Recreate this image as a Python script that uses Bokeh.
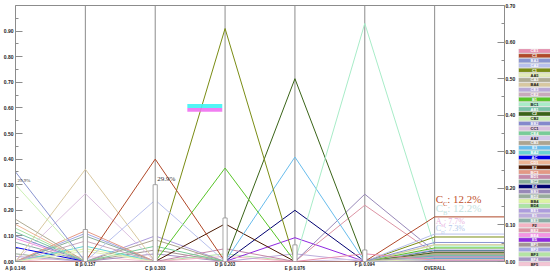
import math
from bokeh.plotting import figure
from bokeh.models import (Range1d, LinearAxis, FixedTicker, Label, BoxAnnotation,
                          PrintfTickFormatter, ColumnDataSource)
from bokeh.layouts import row
from bokeh.embed import file_html
from bokeh.resources import INLINE

# ---------------- data ----------------
axis_pos = [0, 1, 2, 3, 4, 5, 6]
axis_labels = ["A βᵢ 0.146", "B βᵢ 0.157", "C βᵢ 0.303", "D βᵢ 0.203",
               "E βᵢ 0.076", "F βᵢ 0.094", "OVERALL"]
right_end = 7

left_ticks = [0.0, 0.1, 0.2, 0.3, 0.4, 0.5, 0.6, 0.7, 0.8, 0.9]
left_minor = [0.05, 0.15, 0.25, 0.35, 0.45, 0.55, 0.65, 0.75, 0.85, 0.95]
right_ticks = [0.0, 0.1, 0.2, 0.3, 0.4, 0.5, 0.6, 0.7]
right_minor = [0.05, 0.15, 0.25, 0.35, 0.45, 0.55, 0.65]

names = ["CE1", "C3", "BA3", "CA2", "C1", "AA5", "CA3", "BA4", "CE3", "CE2",
         "B1", "BC1", "AB1", "C2", "CB2", "BB2", "CC1", "CE4", "AA2", "CB3",
         "E3", "BA2", "AC", "CD1", "E2", "BC3", "BD1", "BC2", "E4", "BB3",
         "BD2", "BB4", "BD4", "BE1", "E1", "BE3", "F2", "BE2", "BE4", "E5",
         "BF1", "BF2", "BF3", "BF4", "BF5"]
colors = ["#e890b0", "#b04828", "#8a95d0", "#b8c0ec", "#7a8c14", "#e4ecb8", "#b0ac94", "#d8c8a0", "#b8a8d8", "#c8aabb",
          "#58c428", "#a8ecc8", "#78c4a8", "#3a6418", "#ccf0b4", "#8488cc", "#dcc0e0", "#78cc98", "#d4c8ec", "#aca490",
          "#68bcec", "#68d4d4", "#0000e8", "#ecb494", "#4a1800", "#e49884", "#c488a8", "#88ac98", "#000070", "#9888b8",
          "#98ac9c", "#dcf4a4", "#ace4a4", "#ac9cdc", "#bcacdc", "#88aca4", "#f4b4c4", "#dc94a4", "#f494e4", "#9028e0",
          "#a49494", "#a4a8e4", "#b4e4a4", "#a494c4", "#f4c4d4"]

val_A = [0, 0, 0.35, 0, 0, 0, 0.165, 0, 0.02, 0,
         0, 0, 0.115, 0, 0.30, 0.10, 0, 0, 0, 0,
         0, 0, 0.055, 0.145, 0, 0, 0, 0, 0, 0,
         0.03, 0, 0.13, 0, 0, 0.075, 0, 0, 0.09, 0,
         0, 0, 0, 0, 0]
val_B = [0, 0, 0, 0, 0, 0.04, 0, 0.36, 0, 0.08,
         0, 0, 0, 0, 0, 0, 0.265, 0, 0, 0,
         0, 0.06, 0, 0, 0, 0.12, 0, 0.10, 0, 0,
         0, 0.05, 0, 0, 0, 0, 0, 0, 0, 0,
         0, 0.11, 0, 0, 0.02]
val_C = [0, 0.40, 0, 0.24, 0, 0, 0, 0, 0, 0,
         0, 0, 0, 0, 0, 0, 0, 0.06, 0, 0.085,
         0, 0, 0, 0, 0, 0, 0, 0, 0, 0,
         0, 0, 0, 0.10, 0, 0, 0, 0, 0, 0,
         0.045, 0, 0, 0.03, 0]
val_D = [0, 0, 0, 0, 0.91, 0, 0, 0, 0, 0,
         0.365, 0, 0, 0, 0, 0, 0, 0, 0, 0,
         0, 0, 0, 0, 0.147, 0, 0.05, 0, 0, 0,
         0, 0, 0, 0, 0, 0, 0.02, 0, 0, 0,
         0, 0, 0.03, 0, 0]
val_E = [0, 0, 0, 0, 0, 0, 0, 0, 0, 0,
         0, 0, 0, 0.714, 0, 0, 0, 0, 0, 0,
         0.408, 0, 0, 0, 0, 0, 0, 0, 0.20, 0,
         0, 0, 0, 0, 0.03, 0, 0, 0, 0, 0.093,
         0, 0, 0, 0, 0]
val_F = [0.03, 0, 0, 0, 0, 0, 0, 0, 0, 0,
         0, 0.93, 0, 0, 0, 0, 0, 0, 0.01, 0,
         0, 0, 0, 0, 0, 0, 0, 0, 0, 0.263,
         0, 0, 0, 0, 0, 0, 0, 0.22, 0, 0,
         0, 0, 0, 0, 0]
val_overall = [0.004, 0.122, 0.052, 0.075, 0.067, 0.006, 0.020, 0.046, 0.003, 0.012,
               0.037, 0.040, 0.017, 0.024, 0.044, 0.015, 0.034, 0.018, 0.002, 0.026,
               0.031, 0.009, 0.008, 0.021, 0.030, 0.019, 0.010, 0.016, 0.008, 0.028,
               0.004, 0.008, 0.019, 0.030, 0.003, 0.011, 0.004, 0.021, 0.013, 0.007,
               0.014, 0.017, 0.006, 0.009, 0.003]

box_pos = [1, 2, 3, 4, 5]
box_top = [0.125, 0.30, 0.17, 0.065, 0.045]

LEFT_MAX = 1.0
RIGHT_MAX = 0.7

GRAY = "#8c8c8c"
TICK_FONT = "Liberation Sans"

# ---------------- main figure ----------------
p = figure(width=518, height=273, x_range=Range1d(0, right_end),
           y_range=Range1d(0, LEFT_MAX), output_backend="svg", toolbar_location=None,
           x_axis_location=None, y_axis_location="left",
           min_border_left=0, min_border_right=0, min_border_top=5, min_border_bottom=0,
           frame_align=False)
p.grid.visible = False
p.outline_line_color = GRAY
p.outline_line_width = 1
p.extra_y_ranges = {"right": Range1d(0, RIGHT_MAX)}

ya = p.yaxis[0]
ya.ticker = FixedTicker(ticks=left_ticks, minor_ticks=left_minor)
ya.formatter = PrintfTickFormatter(format="%.2f")

ra = LinearAxis(y_range_name="right",
                ticker=FixedTicker(ticks=right_ticks, minor_ticks=right_minor),
                formatter=PrintfTickFormatter(format="%.2f"))
p.add_layout(ra, "right")

for ax, so in ((ya, 2), (ra, 1)):
    ax.axis_line_color = GRAY
    ax.major_tick_line_color = GRAY
    ax.minor_tick_line_color = GRAY
    ax.major_tick_in = 7
    ax.major_tick_out = 0
    ax.minor_tick_in = 3
    ax.minor_tick_out = 0
    ax.major_label_standoff = so
    ax.major_label_text_font = TICK_FONT
    ax.major_label_text_font_size = "5px"
    ax.major_label_text_font_style = "bold"
    ax.major_label_text_color = "#222222"

# bottom category labels (alternating heights via a leading blank line)
bottom_overrides = {}
for i, pos in enumerate(axis_pos):
    bottom_overrides[pos] = axis_labels[i] if i % 2 == 1 else "\n" + axis_labels[i]
ax_b = LinearAxis(ticker=FixedTicker(ticks=axis_pos, minor_ticks=[]),
                  major_label_overrides=bottom_overrides)
ax_b.axis_line_color = None
ax_b.major_tick_line_color = None
ax_b.minor_tick_line_color = None
ax_b.major_tick_out = 0
ax_b.major_tick_in = 0
ax_b.major_label_standoff = 0
ax_b.major_label_text_font = TICK_FONT
ax_b.major_label_text_font_size = "4.5px"
ax_b.major_label_text_font_style = "bold"
ax_b.major_label_text_color = "#222222"
ax_b.major_label_text_line_height = 0.85
p.add_layout(ax_b, "below")

# vertical axis lines
p.segment(x0=axis_pos[1:], y0=0, x1=axis_pos[1:], y1=LEFT_MAX, line_color=GRAY, line_width=1)

# highlight artefact bars
p.add_layout(BoxAnnotation(left=2.46, right=2.96, bottom=0.600, top=0.615,
                           fill_color="#40f4f4", fill_alpha=0.9, line_color=None))
p.add_layout(BoxAnnotation(left=2.46, right=2.96, bottom=0.585, top=0.600,
                           fill_color="#f070f0", fill_alpha=0.9, line_color=None))

n = len(names)
order = list(range(n))[::-1]
xs1, ys1, xs2, ys2, cl = [], [], [], [], []
scale = RIGHT_MAX / LEFT_MAX
for i in order:
    xs1.append(axis_pos[:6])
    ys1.append([val_A[i], val_B[i], val_C[i], val_D[i], val_E[i], val_F[i]])
    xs2.append([axis_pos[5], axis_pos[6], right_end])
    ys2.append([val_F[i] * scale, val_overall[i], val_overall[i]])
    cl.append(colors[i])

p.multi_line(xs="xs", ys="ys", line_color="c", line_width=1,
             source=ColumnDataSource(dict(xs=xs1, ys=ys1, c=cl)))
p.multi_line(xs="xs", ys="ys", line_color="c", line_width=1, y_range_name="right",
             source=ColumnDataSource(dict(xs=xs2, ys=ys2, c=cl)))

# box markers on axes
p.vbar(x=box_pos, top=box_top, bottom=0, width=0.06, fill_color="white",
       line_color="#909090", line_width=0.8)

SERIF = "Liberation Serif"
p.add_layout(Label(x=0, y=0.305, x_offset=2, text="29.9%", text_font=SERIF,
                   text_font_size="5px", text_color="#333333", text_baseline="bottom"))
p.add_layout(Label(x=2, y=0.305, x_offset=2, text="29.9%", text_font=SERIF,
                   text_font_size="7px", text_color="#333333", text_baseline="bottom"))

# units labels
p.add_layout(Label(x=0, y=LEFT_MAX, x_offset=1, y_offset=0, text="(%)", text_font=TICK_FONT,
                   text_font_size="5px", text_font_style="bold", text_color="#222222",
                   text_baseline="bottom"))
p.add_layout(Label(x=right_end, y=RIGHT_MAX, y_range_name="right", x_offset=-2, text="(%)",
                   text_font=TICK_FONT, text_font_size="5px", text_font_style="bold",
                   text_color="#222222", text_align="right", text_baseline="bottom"))

# overall annotations
annots = [("C", "C", ": 12.2%", 0.155, "#c0502a", 11),
          ("C", "B", ": 12.2%", 0.131, "#c4e2e0", 11),
          ("A", "M", ": 7.7%", 0.098, "#e8b4e0", 8),
          ("C", "D", ": 7.3%", 0.079, "#b4c8ea", 8)]
for big, sub, rest, yv, col, fs in annots:
    wbig = fs * 0.68
    wsub = fs * 0.6 * 0.62
    p.add_layout(Label(x=axis_pos[6], y=yv, y_range_name="right", x_offset=1, text=big,
                       text_font=SERIF, text_font_size=f"{fs}px", text_color=col,
                       text_baseline="bottom"))
    p.add_layout(Label(x=axis_pos[6], y=yv, y_range_name="right", x_offset=1 + wbig,
                       y_offset=-2, text=sub, text_font=SERIF,
                       text_font_size=f"{fs * 0.6:.1f}px", text_color=col,
                       text_baseline="bottom"))
    p.add_layout(Label(x=axis_pos[6], y=yv, y_range_name="right", x_offset=1 + wbig + wsub,
                       text=rest, text_font=SERIF, text_font_size=f"{fs}px",
                       text_color=col, text_baseline="bottom"))

# ---------------- legend figure ----------------
def text_col(hexc):
    r, g, b = int(hexc[1:3], 16), int(hexc[3:5], 16), int(hexc[5:7], 16)
    lum = 0.299 * r + 0.587 * g + 0.114 * b
    return "#1a1a1a" if lum > 200 else "white"

leg = figure(width=32, height=273, x_range=Range1d(0, 1), y_range=Range1d(n, 0),
             output_backend="svg", toolbar_location=None,
             x_axis_location=None, y_axis_location=None,
             min_border_top=48, min_border_bottom=7, min_border_left=0, min_border_right=0,
             frame_align=False)
leg.grid.visible = False
leg.outline_line_color = None
ypos = [i + 0.5 for i in range(n)]
leg.rect(x=0.5, y=ypos, width=1.0, height=0.84, fill_color=colors, line_color="#d0d0d0",
         line_width=0.4)
leg.text(x=0.5, y=ypos, text=names, text_align="center", text_baseline="middle",
         text_font_size="4px", text_font_style="bold",
         text_color=[text_col(c) for c in colors])

layout = row(p, leg)
open("out.html", "w").write(file_html(layout, INLINE))
